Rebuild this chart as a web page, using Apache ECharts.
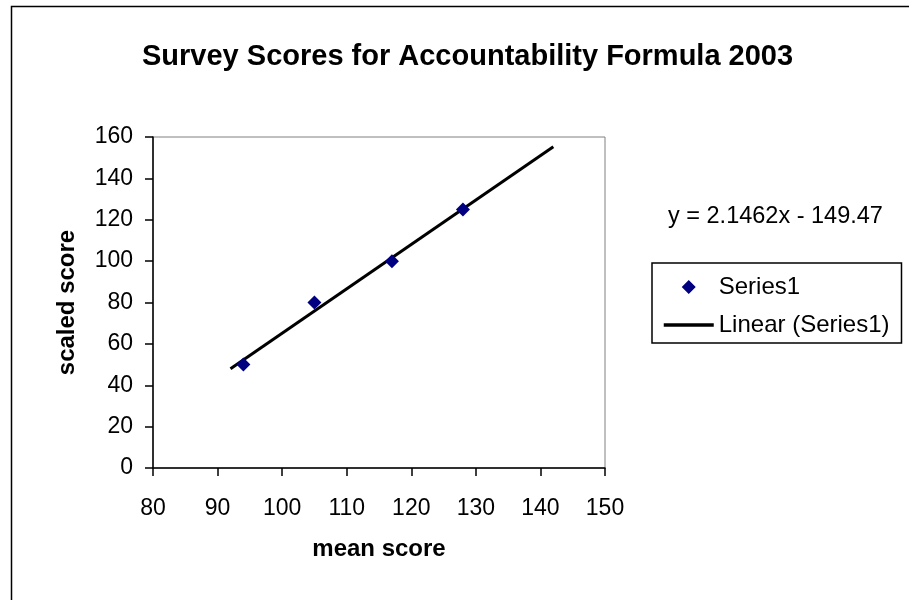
<!DOCTYPE html>
<html>
<head>
<meta charset="utf-8">
<script src="https://cdn.jsdelivr.net/npm/echarts@6/dist/echarts.min.js"></script>
<style>
html,body{margin:0;padding:0;background:#fff;}
#c{width:909px;height:600px;}
</style>
</head>
<body>
<div id="c"></div>
<script>
// Data
var meanScores = [94, 105, 117, 128];
var scaledScores = [50, 80, 100, 125];
var trendX = [92, 142];
var trendY = [47.98, 155.29];
var xTicks = [80, 90, 100, 110, 120, 130, 140, 150];
var yTicks = [0, 20, 40, 60, 80, 100, 120, 140, 160];
var titleText = 'Survey Scores for Accountability Formula 2003';
var equationText = 'y = 2.1462x - 149.47';
var xName = 'mean score';
var yName = 'scaled score';
var seriesName = 'Series1';
var trendName = 'Linear (Series1)';

var FONT = '"Liberation Sans", Arial, sans-serif';

var chart = echarts.init(document.getElementById('c'), null, {renderer: 'canvas'});
var points = meanScores.map(function (x, i) { return [x, scaledScores[i]]; });
var trend = trendX.map(function (x, i) { return [x, trendY[i]]; });

chart.setOption({
  backgroundColor: '#ffffff',
  animation: false,
  textStyle: {fontFamily: FONT},
  title: {
    text: titleText,
    left: 142,
    top: 42,
    padding: 0,
    textStyle: {fontFamily: FONT, fontSize: 29, fontWeight: 'bold', color: '#000'}
  },
  graphic: [
    {
      type: 'rect',
      shape: {x: 11.5, y: 6.5, width: 1200, height: 1200},
      style: {fill: 'none', stroke: '#000', lineWidth: 1.5},
      silent: true
    },
    {
      type: 'text',
      left: 668,
      top: 205,
      style: {text: equationText, font: '23.5px ' + FONT, fill: '#000'}
    }
  ],
  grid: {
    left: 153, right: 304, top: 137, bottom: 132,
    show: true, borderColor: '#808080', borderWidth: 1, backgroundColor: 'transparent'
  },
  legend: {
    orient: 'vertical',
    left: 652,
    top: 263,
    padding: [11, 12, 5, 10],
    itemGap: 12,
    itemWidth: 50,
    itemHeight: 14,
    borderColor: '#000',
    borderWidth: 1.5,
    data: [
      {name: seriesName, icon: 'path://M0,7L50,7M25,0L32,7L25,14L18,7Z'},
      {name: trendName, itemStyle: {opacity: 0, color: 'rgba(0,0,0,0)', borderWidth: 0}, lineStyle: {width: 3.5, color: '#000'}}
    ],
    textStyle: {fontFamily: FONT, fontSize: 24, color: '#000', lineHeight: 26}
  },
  xAxis: {
    type: 'value',
    min: xTicks[0],
    max: xTicks[xTicks.length - 1],
    interval: xTicks[1] - xTicks[0],
    name: xName,
    nameLocation: 'middle',
    nameGap: 69,
    nameMoveOverlap: false,
    nameTextStyle: {fontFamily: FONT, fontSize: 24, fontWeight: 'bold', color: '#000'},
    axisLine: {show: true, onZero: false, lineStyle: {color: '#000', width: 1.5}},
    axisTick: {show: true, inside: false, length: 8, lineStyle: {color: '#000', width: 1.5}},
    axisLabel: {fontFamily: FONT, fontSize: 23, color: '#000', margin: 29},
    splitLine: {show: false}
  },
  yAxis: {
    type: 'value',
    min: yTicks[0],
    max: yTicks[yTicks.length - 1],
    interval: yTicks[1] - yTicks[0],
    name: yName,
    nameLocation: 'middle',
    nameGap: 74,
    nameRotate: 90,
    nameMoveOverlap: false,
    nameTextStyle: {fontFamily: FONT, fontSize: 24, fontWeight: 'bold', color: '#000'},
    axisLine: {show: true, onZero: false, lineStyle: {color: '#000', width: 1.5}},
    axisTick: {show: true, inside: false, length: 8, lineStyle: {color: '#000', width: 1.5}},
    axisLabel: {fontFamily: FONT, fontSize: 23, color: '#000', margin: 20},
    splitLine: {show: false}
  },
  series: [
    {
      name: seriesName,
      type: 'scatter',
      data: points,
      symbol: 'diamond',
      symbolSize: 14,
      itemStyle: {color: '#000080', opacity: 1},
      emphasis: {disabled: true},
      z: 3
    },
    {
      name: trendName,
      type: 'line',
      data: trend,
      symbol: 'none',
      showSymbol: false,
      lineStyle: {color: '#000', width: 3},
      itemStyle: {color: '#000'},
      emphasis: {disabled: true},
      z: 2
    }
  ]
});
</script>
</body>
</html>
